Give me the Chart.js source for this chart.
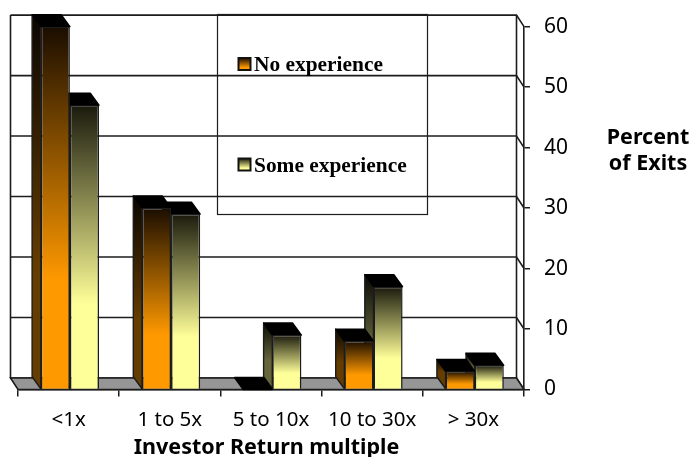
<!DOCTYPE html>
<html>
<head>
<meta charset="utf-8">
<style>
html,body{margin:0;padding:0;background:#fff}
#wrap{position:relative;width:692px;height:457px}
</style>
<script src="https://cdn.jsdelivr.net/npm/chart.js@4"></script>
</head>
<body>
<div id="wrap"><canvas id="c" width="692" height="457"></canvas></div>
<script>
const categories = ['<1x', '1 to 5x', '5 to 10x', '10 to 30x', '> 30x'];
const noExperience = [60, 30, 0, 8, 3];
const someExperience = [47, 29, 9, 17, 4];
const seriesNames = ['No experience', 'Some experience'];
const yTicks = [0, 10, 20, 30, 40, 50, 60];
const xTitle = 'Investor Return multiple';
const yTitleLines = ['Percent', 'of Exits'];

const LINE = '#1c1c1c';
const FONT = '"Noto Sans"';
// Depth of the floor/back wall and of the bars, in pixels
const WALL = {dx: 7.5, dy: 11.5};
const BAR = {dx: 8.7, dy: 12, shift: 1.3};

const palette = [
  {dark: '#1a0d00', light: '#ff9900', sideDark: '#0a0500', sideLight: '#663d00'},
  {dark: '#1a1a0d', light: '#ffff99', sideDark: '#0a0a05', sideLight: '#66663d'}
];

function ramp(ctx, top, bottom, dark, light) {
  const g = ctx.createLinearGradient(0, top, 0, bottom);
  g.addColorStop(0, dark);
  g.addColorStop(0.7, light);
  g.addColorStop(1, light);
  return g;
}

function frontFill(c) {
  const p = palette[c.datasetIndex];
  if (c.type !== 'data') return p.light;
  const y = c.chart.scales.y;
  const top = y ? y.getPixelForValue(c.raw) : NaN;
  const bottom = y ? y.getPixelForValue(0) : NaN;
  // The scale has no pixel range until the first layout has run
  if (!Number.isFinite(top) || !Number.isFinite(bottom)) return p.light;
  return ramp(c.chart.ctx, top, bottom, p.dark, p.light);
}

function poly(ctx, pts, fill, stroke, width) {
  ctx.beginPath();
  pts.forEach((p, i) => i ? ctx.lineTo(p[0], p[1]) : ctx.moveTo(p[0], p[1]));
  ctx.closePath();
  if (fill) { ctx.fillStyle = fill; ctx.fill(); }
  if (stroke) { ctx.strokeStyle = stroke; ctx.lineWidth = width; ctx.stroke(); }
}

// Back wall, floor, and the slanted ticks joining the wall to the value axis
const wallPlugin = {
  id: 'wall',
  beforeDatasetsDraw(chart) {
    const {ctx, chartArea: a, scales: {y}} = chart;
    const base = y.getPixelForValue(0);
    const l = a.left - WALL.dx, r = a.right - WALL.dx;
    ctx.save();
    yTicks.forEach(v => {
      const py = y.getPixelForValue(v);
      ctx.beginPath();
      ctx.moveTo(l, py - WALL.dy);
      ctx.lineTo(r, py - WALL.dy);
      ctx.lineTo(a.right, py);
      ctx.strokeStyle = LINE; ctx.lineWidth = 1.6; ctx.stroke();
    });
    ctx.beginPath();
    ctx.moveTo(l, y.getPixelForValue(60) - WALL.dy);
    ctx.lineTo(l, base - WALL.dy);
    ctx.moveTo(r, y.getPixelForValue(60) - WALL.dy);
    ctx.lineTo(r, base - WALL.dy);
    ctx.strokeStyle = LINE; ctx.lineWidth = 1.6; ctx.stroke();
    poly(ctx, [[l, base - WALL.dy], [r, base - WALL.dy], [a.right, base], [a.left, base]], '#969696', LINE, 1.6);
    ctx.restore();
  }
};

// Side and top faces of each column, painted behind the library's front faces
const depthPlugin = {
  id: 'depth',
  afterDatasetsUpdate(chart) {
    // Columns stand slightly to the right of their band centre in the projection
    [0, 1].forEach(di => chart.getDatasetMeta(di).data.forEach(bar => { bar.x += BAR.shift; }));
  },
  beforeDatasetsDraw(chart) {
    const {ctx} = chart;
    const {dx, dy} = BAR;
    ctx.save();
    ctx.lineJoin = 'round';
    [1, 0].forEach(di => {
      const p = palette[di];
      chart.getDatasetMeta(di).data.forEach(bar => {
        const left = bar.x - bar.width / 2, right = bar.x + bar.width / 2;
        const top = bar.y, base = bar.base;
        if (top < base) {
          const side = ramp(ctx, top - dy, base - dy, p.sideDark, p.sideLight);
          poly(ctx, [[left - dx, top - dy], [left, top], [left, base], [left - dx, base - dy]], side, LINE, 1.4);
        }
        poly(ctx, [[left - dx, top - dy], [right - dx, top - dy], [right, top], [left, top]], '#000000', '#000000', 1.4);
      });
    });
    ctx.restore();
  }
};

// Legend box, the title beside the value axis and the category axis title
const notesPlugin = {
  id: 'notes',
  afterDraw(chart) {
    const ctx = chart.ctx;
    ctx.save();
    ctx.strokeStyle = LINE; ctx.lineWidth = 1.2;
    ctx.strokeRect(217.5, 14.5, 210, 200);
    ctx.textBaseline = 'alphabetic';
    ctx.textAlign = 'left';
    ctx.font = 'bold 21.4px "Liberation Serif"';
    [[58, 70.5], [158.5, 171.5]].forEach(([sy, by], i) => {
      const g = ctx.createLinearGradient(0, sy, 0, sy + 12);
      g.addColorStop(0, palette[i].dark);
      g.addColorStop(0.8, palette[i].light);
      ctx.fillStyle = g;
      ctx.fillRect(238.5, sy, 12, 12);
      ctx.strokeStyle = '#111'; ctx.lineWidth = 2;
      ctx.strokeRect(238.5, sy, 12, 12);
      ctx.fillStyle = '#000';
      ctx.fillText(seriesNames[i], 254, by);
    });
    ctx.textAlign = 'center';
    ctx.font = 'bold 21.5px ' + FONT;
    ctx.fillText(yTitleLines[0], 648, 143.5);
    ctx.fillText(yTitleLines[1], 648, 169.5);
    ctx.fillText(xTitle, 266.5, 453.5);
    ctx.restore();
  }
};

const barStyle = {
  categoryPercentage: 0.575,
  barPercentage: 1,
  backgroundColor: frontFill,
  borderColor: LINE,
  borderWidth: 1.5
};

new Chart(document.getElementById('c'), {
  type: 'bar',
  data: {
    labels: categories,
    datasets: [
      {label: seriesNames[0], data: noExperience, ...barStyle},
      {label: seriesNames[1], data: someExperience, ...barStyle}
    ]
  },
  plugins: [wallPlugin, depthPlugin, notesPlugin],
  options: {
    responsive: false,
    animation: false,
    layout: {padding: {top: 25.5, left: 18, right: 0, bottom: 0}},
    plugins: {legend: {display: false}, tooltip: {enabled: false}, title: {display: false}, colors: {enabled: false}},
    scales: {
      x: {
        afterFit(s) { s.height = 67.5; },
        grid: {drawOnChartArea: false, tickLength: 7, color: LINE, lineWidth: 1.5},
        border: {color: LINE, width: 1.6},
        ticks: {color: '#000', font: {family: FONT, size: 20.5}, padding: 11, maxRotation: 0}
      },
      y: {
        position: 'right',
        min: 0,
        max: 60,
        afterFit(s) { s.width = 168; },
        afterBuildTicks(s) { s.ticks = yTicks.map(value => ({value})); },
        grid: {drawOnChartArea: false, tickLength: 6, color: LINE, lineWidth: 1.5},
        border: {color: LINE, width: 1.6},
        ticks: {color: '#000', font: {family: FONT, size: 21}, padding: 14}
      }
    }
  }
});
</script>
</body>
</html>
